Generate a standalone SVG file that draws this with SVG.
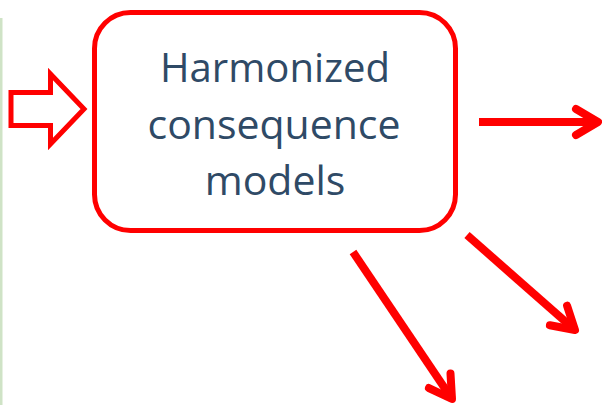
<svg xmlns="http://www.w3.org/2000/svg" width="602" height="405" viewBox="0 0 602 405">
  <style>
    .red { stroke: #ff0000; fill: none; }
    .frame { stroke-width: 5; }
    .flow { stroke-width: 8; stroke-linecap: butt; }
    .label { font-family: "Open Sans", "Liberation Sans", sans-serif; font-size: 41px; fill: #2f4a66; text-anchor: middle; }
  </style>
  <defs>
    <marker id="head" markerUnits="userSpaceOnUse" viewBox="-30 -20 40 40" markerWidth="40" markerHeight="40" refX="0" refY="0" orient="auto" overflow="visible">
      <path d="M-22,-13 L0,0 L-22,13" fill="none" stroke="#ff0000" stroke-width="8" stroke-linecap="round" stroke-linejoin="round"/>
    </marker>
  </defs>
  <rect width="602" height="405" fill="#ffffff"/>
  <!-- thin green edge strip on the left -->
  <rect x="0" y="18" width="2.5" height="387" fill="#cfe3c6"/>

  <!-- hollow input arrow -->
  <g id="input-arrow">
    <path class="red frame" d="M11,92.5 L50.5,92.5 L50.5,74 L84,109 L50.5,144 L50.5,125.5 L11,125.5 Z" stroke-linejoin="miter"/>
  </g>

  <!-- central process box -->
  <g id="consequence-models">
    <rect class="red frame" x="94.5" y="12.5" width="361" height="218" rx="36" ry="36"/>
    <text class="label" x="275" y="82" textLength="230" lengthAdjust="spacingAndGlyphs">Harmonized</text>
    <text class="label" x="274" y="139" textLength="253" lengthAdjust="spacingAndGlyphs">consequence</text>
    <text class="label" x="275" y="195">models</text>
  </g>

  <!-- outgoing connectors -->
  <g id="connectors">
    <path class="red flow" d="M479,122 L598,122" marker-end="url(#head)"/>
    <path class="red flow" d="M353,252 L452,399" marker-end="url(#head)"/>
    <path class="red flow" d="M467,235 L575,330" marker-end="url(#head)"/>
  </g>
</svg>
